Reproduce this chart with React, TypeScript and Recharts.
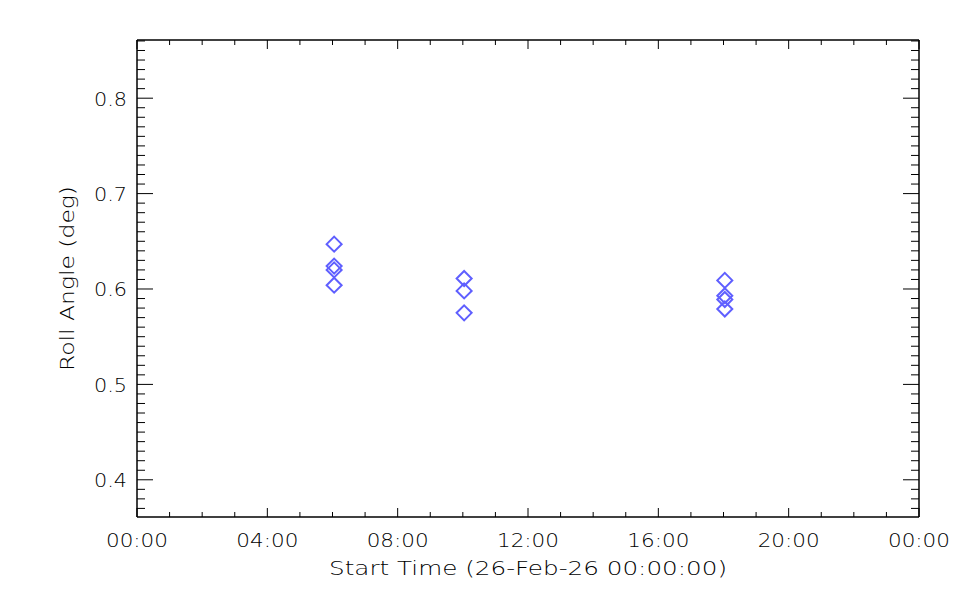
import React from 'react';
import { ScatterChart, Scatter, XAxis, YAxis } from 'recharts';

// Observation times (hours since 26-Feb-26 00:00:00) and roll angles (deg)
const timesHours = [6.05, 6.05, 6.05, 6.05, 10.04, 10.04, 10.04, 18.04, 18.04, 18.04, 18.04];
const rollAngles = [0.647, 0.624, 0.620, 0.604, 0.611, 0.598, 0.575, 0.609, 0.593, 0.589, 0.579];

const xTicks = [0, 1, 2, 3, 4, 5, 6, 7, 8, 9, 10, 11, 12, 13, 14, 15, 16, 17, 18, 19, 20, 21, 22, 23, 24];
const xMajor = [0, 4, 8, 12, 16, 20, 24];
const xMajorLabels = ['00:00', '04:00', '08:00', '12:00', '16:00', '20:00', '00:00'];

const yTicks = [
  0.37, 0.38, 0.39, 0.40, 0.41, 0.42, 0.43, 0.44, 0.45, 0.46,
  0.47, 0.48, 0.49, 0.50, 0.51, 0.52, 0.53, 0.54, 0.55, 0.56,
  0.57, 0.58, 0.59, 0.60, 0.61, 0.62, 0.63, 0.64, 0.65, 0.66,
  0.67, 0.68, 0.69, 0.70, 0.71, 0.72, 0.73, 0.74, 0.75, 0.76,
  0.77, 0.78, 0.79, 0.80, 0.81, 0.82, 0.83, 0.84, 0.85, 0.86,
];
const yMajor = [0.4, 0.5, 0.6, 0.7, 0.8];
const yMajorLabels = ['0.4', '0.5', '0.6', '0.7', '0.8'];

const xTitle = 'Start Time (26-Feb-26 00:00:00)';
const yTitle = 'Roll Angle (deg)';

const data = timesHours.map((t, i) => ({ t, v: rollAngles[i] }));

const FONT = "'DejaVu Sans ExtraLight', 'DejaVu Sans', sans-serif";
const WEIGHT = 200;
const MARK = '#5f5fff';

const xMajorIndex = (h: number) => xMajor.findIndex((m) => Math.abs(m - h) < 1e-6);
const yMajorIndex = (v: number) => yMajor.findIndex((m) => Math.abs(m - v) < 1e-6);

const BottomTick = (props: any) => {
  const { x, y, payload } = props;
  const idx = xMajorIndex(payload.value);
  const len = idx >= 0 ? 9 : 5;
  return (
    <g>
      <line x1={x} y1={y} x2={x} y2={y - len} stroke="#000" strokeWidth={1} />
      {idx >= 0 && (
        <text x={x} y={y + 30} textAnchor="middle" fontFamily={FONT} fontWeight={WEIGHT} fontSize={20} fill="#000"
          textLength={62} lengthAdjust="spacingAndGlyphs">
          {xMajorLabels[idx]}
        </text>
      )}
    </g>
  );
};

const TopTick = (props: any) => {
  const { x, y, payload } = props;
  const idx = xMajorIndex(payload.value);
  const len = idx >= 0 ? 9 : 5;
  return <line x1={x} y1={y} x2={x} y2={y + len} stroke="#000" strokeWidth={1} />;
};

const LeftTick = (props: any) => {
  const { x, y, payload } = props;
  const idx = yMajorIndex(payload.value);
  const len = idx >= 0 ? 16 : 8;
  return (
    <g>
      <line x1={x} y1={y} x2={x + len} y2={y} stroke="#000" strokeWidth={1} />
      {idx >= 0 && (
        <text x={x - 10} y={y + 7.5} textAnchor="end" fontFamily={FONT} fontWeight={WEIGHT} fontSize={20} fill="#000"
          textLength={33} lengthAdjust="spacingAndGlyphs">
          {yMajorLabels[idx]}
        </text>
      )}
    </g>
  );
};

const RightTick = (props: any) => {
  const { x, y, payload } = props;
  const idx = yMajorIndex(payload.value);
  const len = idx >= 0 ? 16 : 8;
  return <line x1={x} y1={y} x2={x - len} y2={y} stroke="#000" strokeWidth={1} />;
};

const Diamond = (props: any) => {
  const { cx, cy } = props;
  if (cx == null || cy == null) return <g />;
  const r = 7.5;
  return (
    <path
      d={`M${cx},${cy - r}L${cx + r},${cy}L${cx},${cy + r}L${cx - r},${cy}Z`}
      fill="none"
      stroke={MARK}
      strokeWidth={2}
    />
  );
};

const Empty = () => <g />;

export default function App() {
  return (
    <div style={{ position: 'absolute', left: 0, top: 0, width: 960, height: 600, background: '#fff' }}>
      <ScatterChart width={960} height={600} margin={{ top: 39, right: 40, bottom: 0, left: 0 }}>
        <XAxis
          xAxisId="bottom"
          dataKey="t"
          type="number"
          domain={[0, 24]}
          ticks={xTicks}
          interval={0}
          height={83}
          orientation="bottom"
          tickLine={false}
          tickSize={0}
          tickMargin={0}
          axisLine={{ stroke: '#000', strokeWidth: 1.5 }}
          tick={<BottomTick />}
          allowDataOverflow
          label={{
            content: (p: any) => {
              const vb = p.viewBox || { x: 137, y: 517, width: 782 };
              return (
                <text x={vb.x + vb.width / 2} y={vb.y + 58} textAnchor="middle" fontFamily={FONT} fontWeight={WEIGHT}
                  fontSize={20} fill="#000" textLength={398} lengthAdjust="spacingAndGlyphs">
                  {xTitle}
                </text>
              );
            },
          }}
        />
        <XAxis
          xAxisId="top"
          dataKey="t"
          type="number"
          domain={[0, 24]}
          ticks={xTicks}
          interval={0}
          height={1}
          orientation="top"
          tickLine={false}
          tickSize={0}
          tickMargin={0}
          axisLine={{ stroke: '#000', strokeWidth: 1.5 }}
          tick={<TopTick />}
          allowDataOverflow
        />
        <YAxis
          yAxisId="left"
          dataKey="v"
          type="number"
          domain={[0.361, 0.861]}
          ticks={yTicks}
          interval={0}
          width={137}
          orientation="left"
          tickLine={false}
          tickSize={0}
          tickMargin={0}
          axisLine={{ stroke: '#000', strokeWidth: 1.5 }}
          tick={<LeftTick />}
          allowDataOverflow
          label={{
            content: (p: any) => {
              const vb = p.viewBox || { x: 0, y: 40, width: 137, height: 477 };
              const cx = 74;
              const cy = vb.y + vb.height / 2;
              return (
                <text x={cx} y={cy} transform={`rotate(-90, ${cx}, ${cy})`} textAnchor="middle"
                  fontFamily={FONT} fontWeight={WEIGHT} fontSize={20} fill="#000" textLength={185} lengthAdjust="spacingAndGlyphs">
                  {yTitle}
                </text>
              );
            },
          }}
        />
        <YAxis
          yAxisId="right"
          dataKey="v"
          type="number"
          domain={[0.361, 0.861]}
          ticks={yTicks}
          interval={0}
          width={1}
          orientation="right"
          tickLine={false}
          tickSize={0}
          tickMargin={0}
          axisLine={{ stroke: '#000', strokeWidth: 1.5 }}
          tick={<RightTick />}
          allowDataOverflow
        />
        <Scatter xAxisId="top" yAxisId="right" data={data} shape={<Empty />} isAnimationActive={false} />
        <Scatter xAxisId="bottom" yAxisId="left" data={data} shape={<Diamond />} isAnimationActive={false} />
      </ScatterChart>
    </div>
  );
}
